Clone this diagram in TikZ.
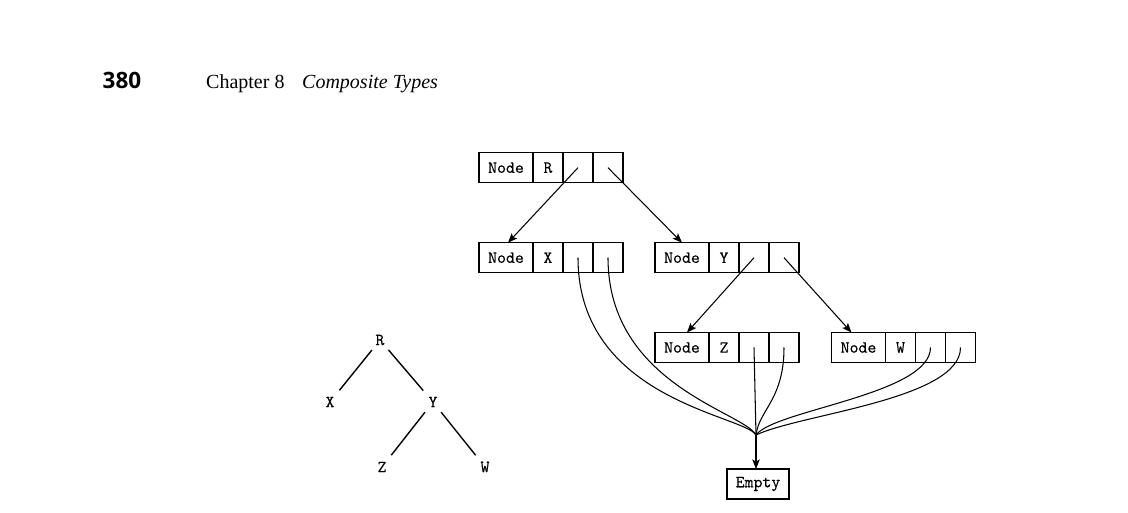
\documentclass[tikz,border=0pt]{standalone}
\usepackage{fontspec}
\newfontfamily\headsans{Open Sans}
\newfontfamily\headserif{Liberation Serif}
\newfontfamily\tyfam{lmmono10-regular.otf}[FakeBold=0.2]
\usetikzlibrary{arrows.meta}
\newcommand\tyfont{\tyfam\fontsize{17}{20}\selectfont}
\tikzset{
  cell/.style={draw, line width=1.4pt, minimum height=30pt, inner sep=0pt, outer sep=0pt, font=\tyfont, anchor=west},
  conn/.style={line width=1.05pt},
  arr/.style={conn, -{Stealth[length=9.5pt,width=7.5pt,inset=2pt]}},
  tl/.style={font=\tyfont, inner sep=0pt},
  tedge/.style={line width=1.4pt, shorten <=13pt, shorten >=15pt},
}
\newcommand\recordbox[4]{%
  \node[cell, minimum width=54pt] (#1n) at (#2,#3) {Node};
  \node[cell, minimum width=30pt] (#1v) at (#1n.east) {#4};
  \node[cell, minimum width=30pt] (#1a) at (#1v.east) {};
  \node[cell, minimum width=30pt] (#1b) at (#1a.east) {};
}
\begin{document}
\begin{tikzpicture}[x=1pt,y=-1pt]
\fill[white] (0,0) rectangle (1128,513);
\useasboundingbox (0,0) rectangle (1128,513);
% header
\node[anchor=base west, inner sep=0pt, font=\headsans\bfseries\fontsize{22.5}{27}\selectfont] (pg) at (102.5,89) {380};
\node[anchor=base west, inner sep=0pt, font=\headserif\fontsize{20}{24}\selectfont] (ch) at (206,89) {Chapter 8};
\node[anchor=base west, inner sep=0pt, font=\headserif\itshape\fontsize{20}{24}\selectfont] (ct) at (302,89) {Composite Types};
% records
\recordbox{r}{479}{167.7}{R}
\recordbox{x}{479}{257.7}{X}
\recordbox{y}{655}{257.7}{Y}
\recordbox{z}{655}{347.5}{Z}
\recordbox{w}{831.5}{347.5}{W}
\node[cell, anchor=center, minimum width=62pt] (empty) at (758,484) {Empty};
\coordinate (conv) at (756,435);
% pointers
\draw[arr] (ra.center) -- ([xshift=2pt]xn.north);
\draw[arr] (rb.center) -- (yn.north);
\draw[arr] (ya.center) -- ([xshift=5pt]zn.north);
\draw[arr] (yb.center) -- ([xshift=-7pt]wn.north);
% empty pointers
\draw[conn] (xa.center) .. controls +(0,142) and +(-12,-20) .. (conv);
\draw[conn] (xb.center) .. controls +(0,127) and +(-12,-23) .. (conv);
\draw[conn] (za.center) -- (conv);
\draw[conn] (zb.center) .. controls +(0,52) and +(3,-25) .. (conv);
\draw[conn] (wa.center) .. controls +(0,47) and +(18,-25) .. (conv);
\draw[conn] (wb.center) .. controls +(0,52) and +(44,-21) .. (conv);
\draw[arr] (conv) -- (conv |- empty.north);
% abstract tree
\node[tl] (tR) at (380,340) {R};
\node[tl] (tX) at (330,402) {X};
\node[tl] (tY) at (433,402) {Y};
\node[tl] (tZ) at (382,467) {Z};
\node[tl] (tW) at (485,467) {W};
\draw[tedge] (tR.center) -- (tX.center);
\draw[tedge] (tR.center) -- (tY.center);
\draw[tedge] (tY.center) -- (tZ.center);
\draw[tedge] (tY.center) -- (tW.center);
\end{tikzpicture}
\end{document}
